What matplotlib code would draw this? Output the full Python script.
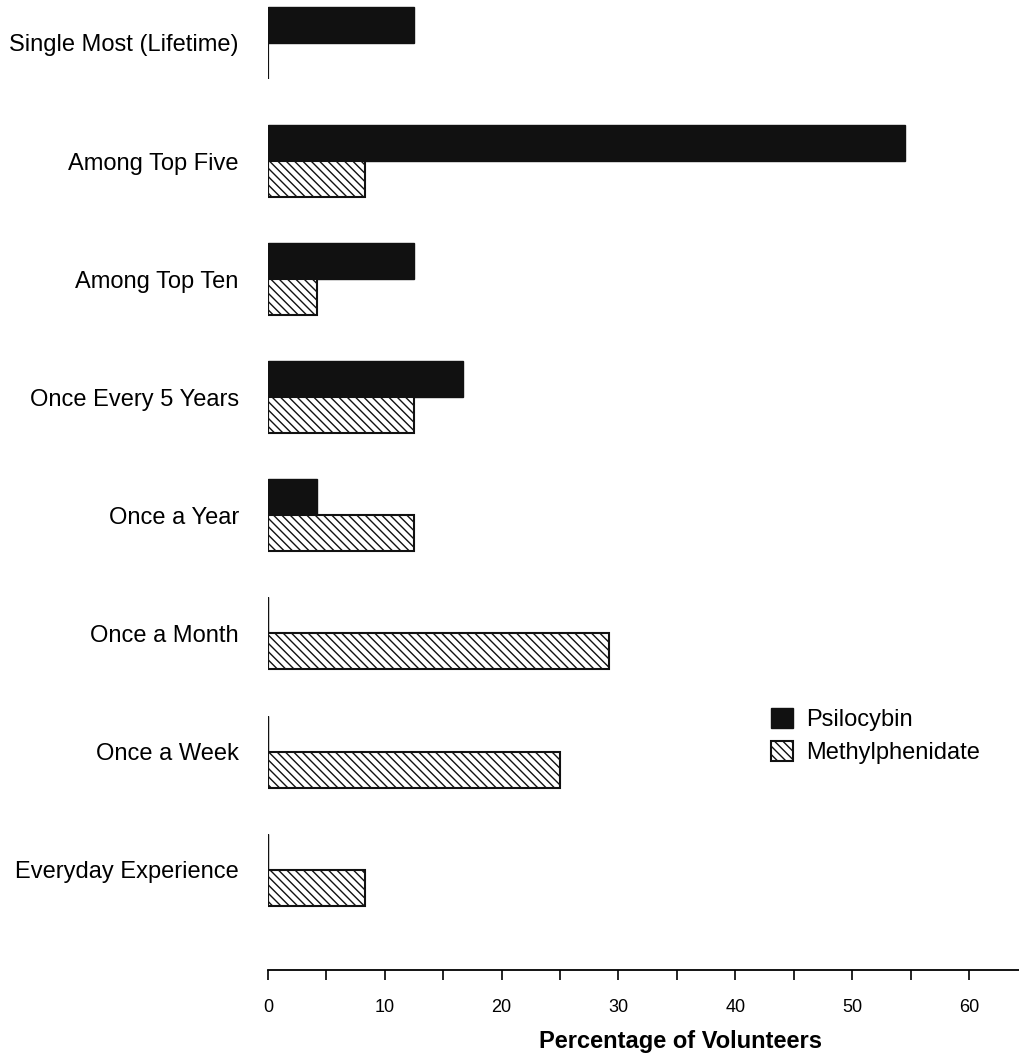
import matplotlib.pyplot as plt
import numpy as np

# Categories (top to bottom)
categories = ['Single Most (Lifetime)', 'Among Top Five', 'Among Top Ten',
              'Once Every 5 Years', 'Once a Year', 'Once a Month',
              'Once a Week', 'Everyday Experience']

# Percentage of volunteers
psilocybin = [12.5, 54.5, 12.5, 16.7, 4.2, 0, 0, 0]
methylphenidate = [0, 8.3, 4.2, 12.5, 12.5, 29.2, 25.0, 8.3]

major_ticks = [0, 10, 20, 30, 40, 50, 60]
minor_ticks = [5, 15, 25, 35, 45, 55]

plt.rcParams['font.family'] = ['Liberation Sans', 'DejaVu Sans']
plt.rcParams['hatch.linewidth'] = 1.0

fig = plt.figure(figsize=(10.19, 10.57), dpi=100)
ax = fig.add_axes([268/1019, 87/1057, 751/1019, 970/1057])

y = np.arange(len(categories))
h = 0.305

ax.barh(y - h/2, psilocybin, height=h, color='#111111', edgecolor='#111111',
        linewidth=1, label='Psilocybin')
ax.barh(y + h/2, methylphenidate, height=h, color='white', edgecolor='#111111',
        hatch='\\\\\\\\', linewidth=1.5, label='Methylphenidate')
ax.vlines(np.zeros(len(y)), y - h, y + h, color='#111111', linewidth=1.5)

ax.set_xlim(0, 64.28)
ax.set_ylim(7.85, -0.364)

for spine in ['left', 'right', 'top']:
    ax.spines[spine].set_visible(False)
ax.spines['bottom'].set_linewidth(1.3)

ax.set_yticks(y)
ax.set_yticklabels(categories, fontsize=17)
ax.tick_params(axis='y', length=0, pad=21)

ax.set_xticks(major_ticks)
ax.set_xticks(minor_ticks, minor=True)
ax.tick_params(axis='x', which='both', direction='out', length=7, width=1.2,
               labelsize=13, pad=14)
ax.set_xlabel('Percentage of Volunteers', fontsize=17, fontweight='bold')
ax.xaxis.set_label_coords(0.549, -0.062)

ax.legend(loc='upper left', bbox_to_anchor=(0.642, 0.292), frameon=False,
          fontsize=17, handlelength=0.93, handleheight=0.93, handletextpad=0.55,
          labelspacing=0.4)

plt.savefig('out.png', dpi=100)
